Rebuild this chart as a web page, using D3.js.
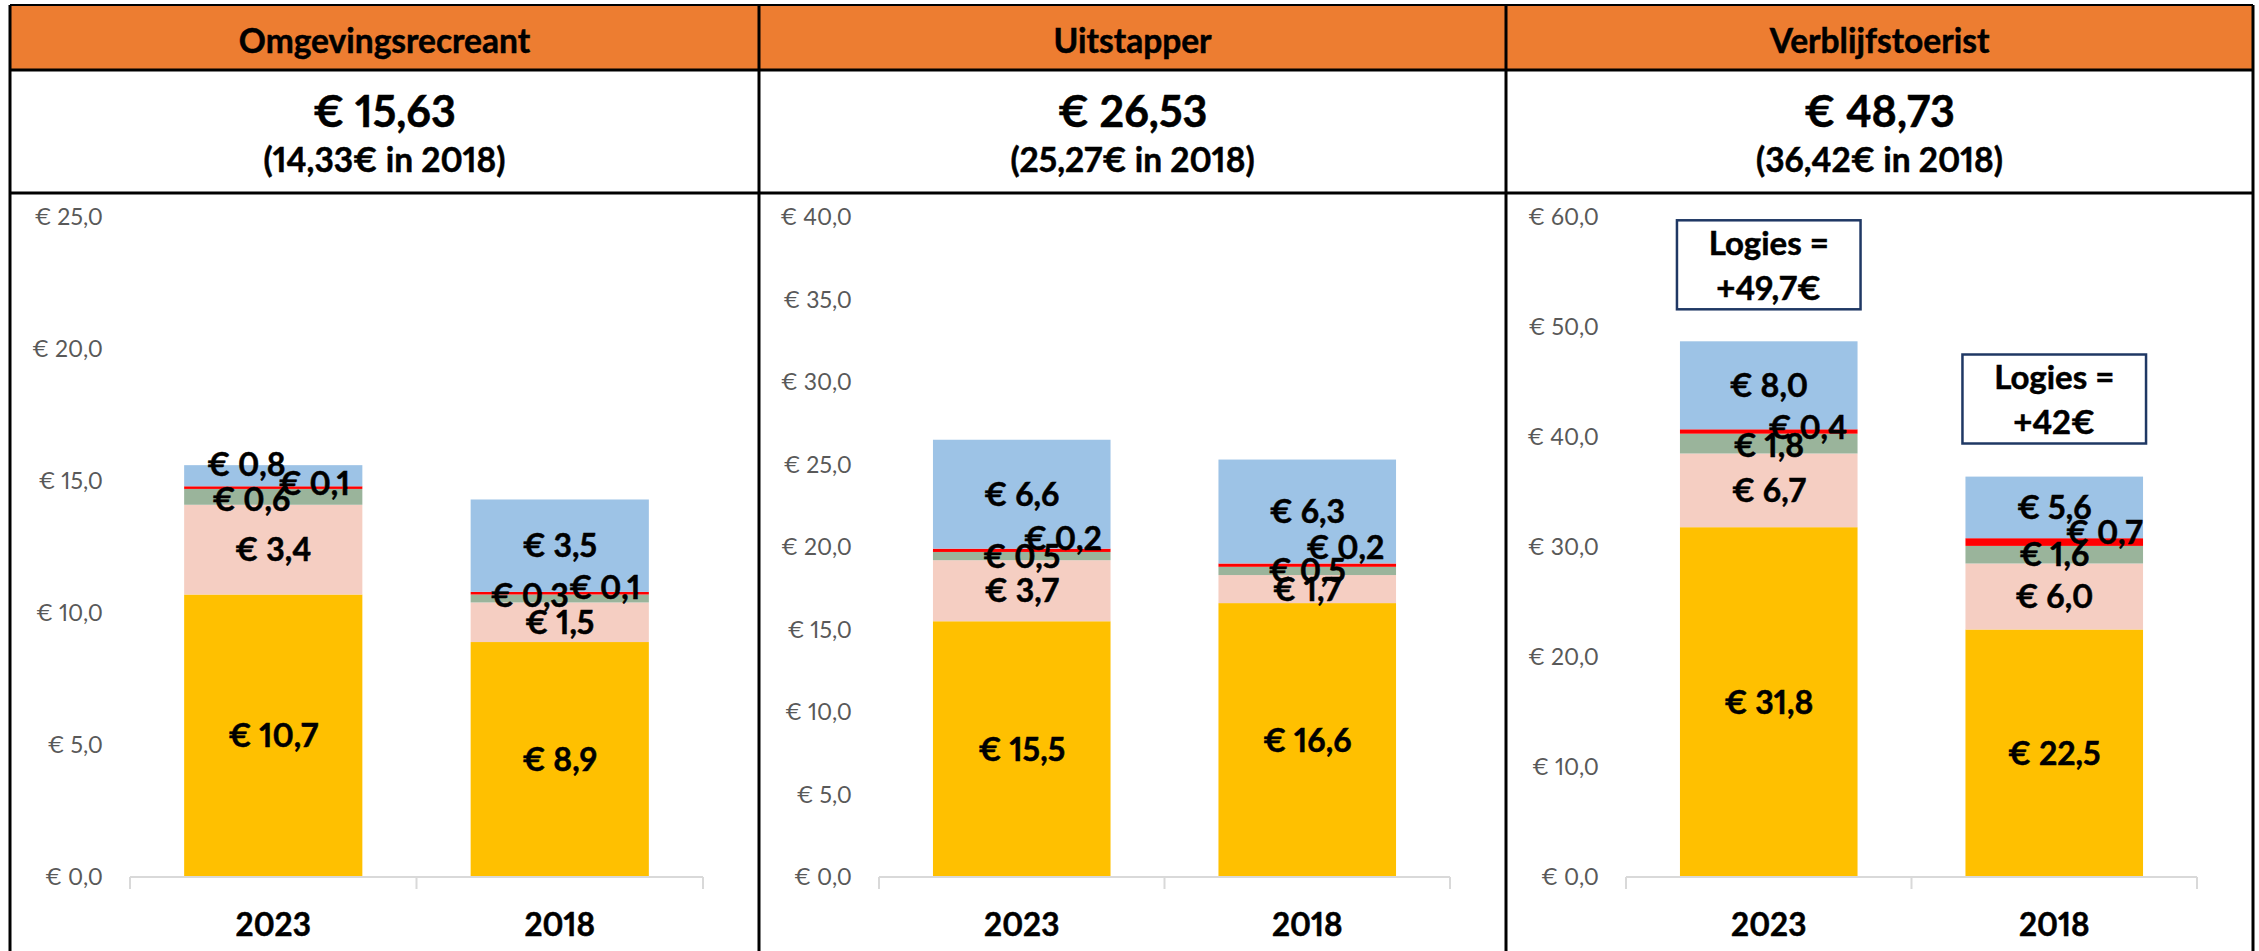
<!DOCTYPE html>
<html>
<head>
<meta charset="utf-8">
<script src="https://cdn.jsdelivr.net/npm/d3@7"></script>
<style>
  html, body { margin: 0; padding: 0; background: #fff; }
  svg { display: block; }
  text { font-family: Lato, "Open Sans", sans-serif; font-variant-numeric: proportional-nums; }
</style>
</head>
<body>
<svg id="chart" width="2259" height="951"></svg>
<script>
// ---- data -------------------------------------------------------------
const years = ["2023", "2018"];
const seriesKeys = ["geel", "roze", "groen", "rood", "blauw"];
const seriesColors = ["#FFC000", "#F5CEC2", "#9AB49B", "#FF0000", "#9DC3E6"];

const panelTitles = ["Omgevingsrecreant", "Uitstapper", "Verblijfstoerist"];
const totals2023 = [15.63, 26.53, 48.73];
const totals2018 = [14.33, 25.27, 36.42];
const axisMax = [25, 40, 60];
const axisStep = [5, 5, 10];

// one row per series, one column per year (2023, 2018)
const omgevingsrecreant = [[10.7, 8.9], [3.4, 1.5], [0.6, 0.3], [0.1, 0.1], [0.8, 3.5]];
const uitstapper        = [[15.5, 16.6], [3.7, 1.7], [0.5, 0.5], [0.2, 0.2], [6.6, 6.3]];
const verblijfstoerist  = [[31.8, 22.5], [6.7, 6.0], [1.8, 1.6], [0.4, 0.7], [8.0, 5.6]];
const panelValues = [omgevingsrecreant, uitstapper, verblijfstoerist];

// accommodation cost on top of the stay (third panel only)
const logiesExtra = [49.7, 42];

// ---- layout -----------------------------------------------------------
const W = 2259, H = 951;
const colEdges = [10, 759, 1506, 2253];
const topY = 5, headerBottom = 70, titleBottom = 193;
const plotTop = 217, plotBottom = 877;

// hand-placed offsets (px) for labels of the thin segments
const labelNudge = {
  0: { blauw: [[-27, -11], null], rood: [[41, -4], [45, -6]], groen: [[-22, 3], [-30, -3]] },
  1: { rood: [[41, -12], [38, -18]] },
  2: { rood: [[39, -4], [50, -10]], groen: [[0, 2], null] }
};
// top of each Logies box, in axis units of the third panel
const logiesBoxTop = [59.7, 47.5];

const nl = d3.formatLocale({ decimal: ",", thousands: ".", grouping: [3], currency: ["€ ", ""] });
const f1 = nl.format(".1f");
const f2 = nl.format(".2f");
const fTrim = nl.format("~g");

const svg = d3.select("#chart");
const cap = fs => 0.358 * fs; // half cap-height of Lato, for vertical centring

function centredText(g, x, y, str, fs, opts = {}) {
  const bold = (opts.weight || 700) >= 700;
  return g.append("text")
    .attr("x", x).attr("y", y + cap(fs))
    .attr("text-anchor", opts.anchor || "middle")
    .attr("font-size", fs)
    .attr("font-weight", opts.weight || 700)
    .attr("fill", opts.fill || "#000")
    .attr("stroke", bold ? (opts.fill || "#000") : null)
    .attr("stroke-width", bold ? 0.5 : null)
    .text(str);
}

// header band
svg.append("rect")
  .attr("x", colEdges[0]).attr("y", topY)
  .attr("width", colEdges[3] - colEdges[0]).attr("height", headerBottom - topY)
  .attr("fill", "#ED7D31");

panelTitles.forEach((title, p) => {
  const left = colEdges[p], right = colEdges[p + 1];
  const cx = (left + right) / 2;
  const g = svg.append("g");

  centredText(g, cx, 41, title, 33.5);
  centredText(g, cx, 112, "€ " + f2(totals2023[p]), 43);
  centredText(g, cx, 160, "(" + f2(totals2018[p]) + "€ in " + years[1] + ")", 33.5);

  // scales
  const x = d3.scaleBand()
    .domain(years)
    .range([left + 120, right - 56])
    .paddingInner(0.378)
    .paddingOuter(0.189);
  const y = d3.scaleLinear().domain([0, axisMax[p]]).range([plotBottom, plotTop]);

  // stacked series
  const rows = years.map((yr, i) => {
    const r = { year: yr };
    seriesKeys.forEach((k, s) => { r[k] = panelValues[p][s][i]; });
    return r;
  });
  const stacked = d3.stack().keys(seriesKeys)(rows);

  // y tick labels (no axis line or gridlines)
  const ticks = d3.range(0, axisMax[p] + 0.001, axisStep[p]);
  const axisLeft = x.range()[0];
  ticks.forEach(t => {
    centredText(g, axisLeft - 27, y(t), "€ " + f1(t), 23,
      { anchor: "end", weight: 400, fill: "#595959" });
  });

  // bars
  stacked.forEach((layer, s) => {
    g.selectAll(null).data(layer).enter().append("rect")
      .attr("x", d => x(d.data.year))
      .attr("width", x.bandwidth())
      .attr("y", d => y(d[1]))
      .attr("height", d => y(d[0]) - y(d[1]))
      .attr("fill", seriesColors[s]);
  });

  // category axis
  const xAxis = g.append("g").attr("transform", `translate(0,${plotBottom})`)
    .call(d3.axisBottom(x).tickSize(0).tickFormat(""));
  xAxis.select(".domain").remove();
  const [a0, a1] = x.range();
  xAxis.append("line").attr("x1", a0).attr("x2", a1).attr("y1", 0).attr("y2", 0)
    .attr("stroke", "#D9D9D9").attr("stroke-width", 2);
  [a0, a0 + x.step(), a1].forEach(tx => {
    xAxis.append("line").attr("x1", tx).attr("x2", tx).attr("y1", 0).attr("y2", 12)
      .attr("stroke", "#D9D9D9").attr("stroke-width", 2);
  });
  years.forEach(yr => {
    centredText(g, x(yr) + x.bandwidth() / 2, 925, yr, 31.5);
  });

  // value labels
  stacked.forEach((layer, s) => {
    const key = seriesKeys[s];
    layer.forEach((d, i) => {
      const nudge = (labelNudge[p] && labelNudge[p][key] && labelNudge[p][key][i]) || [0, 0];
      const lx = x(d.data.year) + x.bandwidth() / 2 + nudge[0];
      const ly = y((d[0] + d[1]) / 2) + nudge[1];
      centredText(g, lx, ly, "€ " + f1(d[1] - d[0]), 32);
    });
  });

  // Logies annotation boxes
  if (p === 2) {
    years.forEach((yr, i) => {
      const bx = x(yr) + x.bandwidth() / 2;
      const top = y(logiesBoxTop[i]);
      const bw = x.bandwidth() + 6, bh = 89;
      g.append("rect")
        .attr("x", bx - bw / 2).attr("y", top)
        .attr("width", bw).attr("height", bh)
        .attr("fill", "#fff").attr("stroke", "#1F3864").attr("stroke-width", 2.5);
      centredText(g, bx, top + 23, "Logies =", 33);
      centredText(g, bx, top + 68, "+" + fTrim(logiesExtra[i]) + "€", 33);
    });
  }
});

// table grid lines
const grid = svg.append("g").attr("stroke", "#000").attr("stroke-width", 3);
[topY, headerBottom, titleBottom].forEach(yy => {
  grid.append("line").attr("x1", colEdges[0]).attr("x2", colEdges[3]).attr("y1", yy).attr("y2", yy)
    .attr("stroke-width", yy === topY ? 2 : 3);
});
colEdges.forEach(xx => {
  grid.append("line").attr("x1", xx).attr("x2", xx).attr("y1", topY).attr("y2", H);
});
</script>
</body>
</html>
